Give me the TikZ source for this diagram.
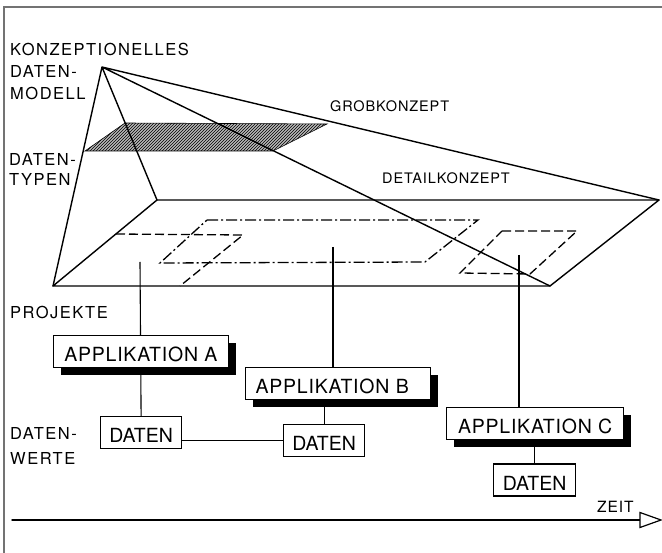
\documentclass[tikz,border=0pt]{standalone}
\usepackage{fontspec}
\setmainfont{TeX Gyre Heros}
\newfontfamily\lblfont[LetterSpace=9]{TeX Gyre Heros}
\newfontfamily\smlfont[LetterSpace=6]{TeX Gyre Heros}
\newfontfamily\boxfont[LetterSpace=4]{TeX Gyre Heros}
\newfontfamily\datfont[LetterSpace=0]{TeX Gyre Heros}
\usetikzlibrary{shadows,patterns,backgrounds}
\begin{document}
\begin{tikzpicture}[x=1pt,y=-1pt,
  every node/.style={inner sep=0pt},
  lbl/.style={font=\lblfont\fontsize{16.5}{19}\selectfont, anchor=base west},
  sml/.style={font=\smlfont\fontsize{14.5}{17}\selectfont, anchor=base west},
  zeitlbl/.style={font=\smlfont\fontsize{15.5}{17}\selectfont, anchor=base west},
  planeline/.style={line width=1.4pt, line join=round, line cap=round},
  framel/.style={line width=1.4pt, black!55},
  dashA/.style={line width=1.3pt, dash pattern=on 9pt off 4pt},
  dashB/.style={line width=1.3pt, dash pattern=on 11pt off 3pt on 2pt off 3pt},
  connline/.style={line width=1.1pt},
  shadowed/.style={drop shadow={shadow xshift=7.5pt, shadow yshift=-7.5pt, fill=black, opacity=1}},
  appbox/.style={draw, line width=1.2pt, fill=white, anchor=north west,
     inner xsep=10pt, inner ysep=6pt, text height=20pt, text depth=0pt,
     minimum height=32pt, font=\boxfont\fontsize{19.5}{22}\selectfont, shadowed},
  datbox/.style={draw, line width=1.2pt, fill=white, anchor=north west,
     inner xsep=0pt, inner ysep=6pt, text height=20pt, text depth=0pt,
     minimum height=32pt, minimum width=81pt, font=\datfont\fontsize{19.5}{22}\selectfont}
]
\useasboundingbox (0,0) rectangle (662,553);

% frame
\coordinate (F0) at (4,553);
\coordinate (F1) at (4,7);
\coordinate (F2) at (662,7);
\draw[framel] (F0) -- (F1) -- (F2);

% pyramid
\coordinate (K) at (102,67);
\coordinate (P1) at (53,286);
\coordinate (P2) at (157,200);
\coordinate (P3) at (659,200);
\coordinate (P4) at (550,286);
\coordinate (H1) at (85,151);
\coordinate (H2) at (125,123);
\coordinate (H3) at (327,124);
\coordinate (H4) at (273,151);

\path[preaction={fill=gray!55}, pattern=north east lines] (H1)--(H2)--(H3)--(H4)--cycle;
\draw[line width=0.6pt] (H1)--(H2)--(H3)--(H4)--cycle;

\draw[planeline] (P1)--(P2)--(P3)--(P4)--cycle;
\draw[planeline] (K)--(P1) (K)--(P2) (K)--(P3) (K)--(P4);

% regions on the plane
\coordinate (A1) at (116,234);
\coordinate (A2) at (243,235);
\coordinate (A3) at (180,286);
\draw[dashA] (A1) -- (A2) -- (A3);
\coordinate (B1) at (207,220);
\coordinate (B2) at (478,220);
\coordinate (B3) at (425,262);
\coordinate (B4) at (160,263);
\draw[dashB] (B1) -- (B2) -- (B3) -- (B4) -- cycle;
\coordinate (C1) at (502,231);
\coordinate (C2) at (577,231);
\coordinate (C3) at (530,274);
\coordinate (C4) at (460,273);
\draw[dashA] (C1) -- (C2) -- (C3) -- (C4) -- cycle;

% labels
\node[lbl] (l1) at (10,56) {KONZEPTIONELLES};
\node[lbl] (l2) at (10,78) {DATEN-};
\node[lbl] (l3) at (10,100) {MODELL};
\node[lbl] (l4) at (9,166) {DATEN-};
\node[lbl] (l5) at (9,186) {TYPEN};
\node[sml] (l6) at (330,112) {GROBKONZEPT};
\node[sml] (l7) at (382,184) {DETAILKONZEPT};
\node[lbl] (l8) at (10,319) {PROJEKTE};
\node[lbl] (l9) at (10,440) {DATEN-};
\node[lbl] (l10) at (10,465) {WERTE};
\node[zeitlbl] (l11) at (597,512) {ZEIT};

% boxes
\node[appbox, minimum width=175pt] (appA) at (52.7,335) {APPLIKATION A};
\node[appbox, text width=165pt, align=left] (appB) at (245,367) {APPLIKATION B};
\node[appbox, minimum width=177pt] (appC) at (446,407.3) {APPLIKATION C};
\node[datbox] (datA) at (100,416) {DATEN};
\node[datbox] (datB) at (283,424) {DATEN};
\node[datbox, minimum width=82pt] (datC) at (493,463.5) {DATEN};

% project lines
\coordinate (pA) at (140,262);
\coordinate (pB) at (333,247);
\coordinate (pC) at (519,255);
\begin{scope}[on background layer]
\draw[connline] (pA) -- (datA.north);
\draw[connline] (pB) -- (pB |- appB.north);
\draw[connline] (pC) -- (pC |- appC.north);
\draw[connline] (datB.north) -- (datB.north |- appB.south);
\draw[connline] (datC.north) -- (datC.north |- appC.south);
\end{scope}
\draw[connline] (datA.east |- datB.west) -- (datB.west);

% time axis
\coordinate (T0) at (12,520);
\coordinate (T1) at (640,520);
\coordinate (Ta) at (640,512.5);
\coordinate (Tb) at (661,520);
\coordinate (Tc) at (640,527.5);
\draw[planeline] (T0) -- (T1);
\draw[line width=1.2pt, line join=miter, fill=white] (Ta) -- (Tb) -- (Tc) -- cycle;
\end{tikzpicture}
\end{document}
